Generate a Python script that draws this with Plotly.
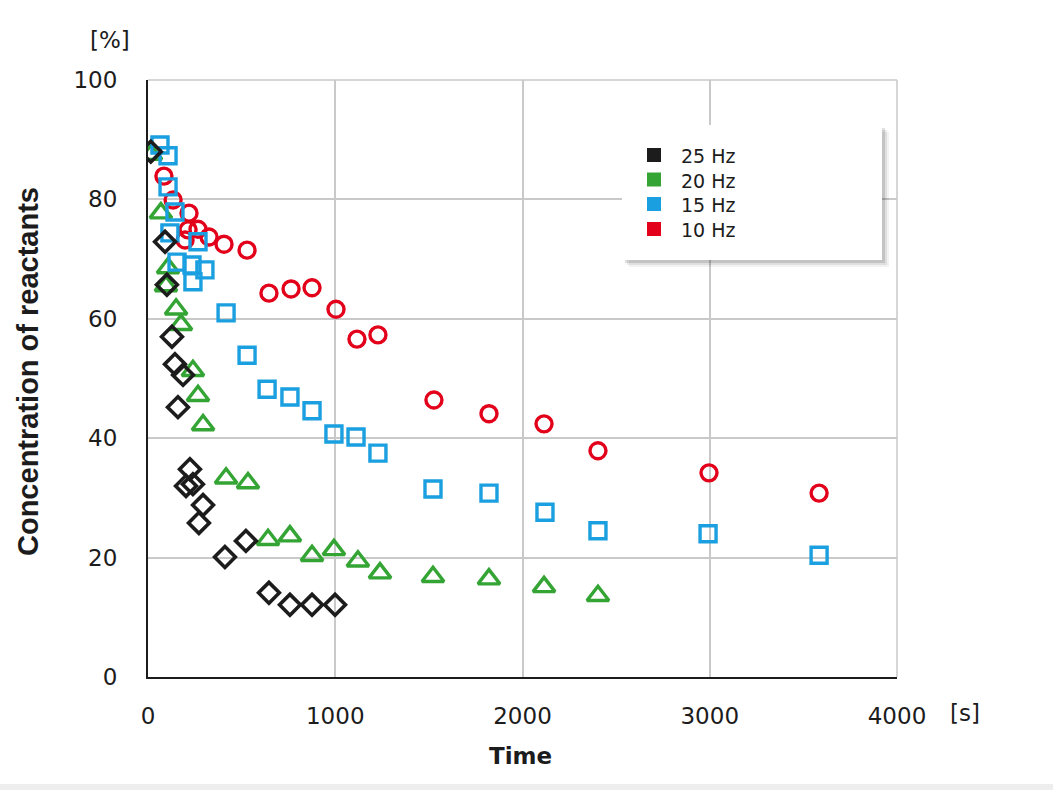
import plotly.graph_objects as go

# ---------------- data ----------------
t25 = [15, 91, 101, 128, 144, 187, 160, 224, 203, 240, 294, 272, 411, 523, 646, 758, 876, 999]
c25 = [88, 72.9, 65.7, 57, 52.4, 50.6, 45.2, 34.8, 32, 32.3, 28.8, 25.8, 20.1, 22.8, 14.1, 12.1, 12.1, 12.1]

t20 = [16, 69, 107, 96, 150, 176, 240, 267, 294, 417, 534, 641, 758, 876, 993, 1121, 1239, 1522, 1821, 2115, 2403]
c20 = [87.5, 77.7, 68.5, 65.5, 61.6, 59.0, 51.3, 47.1, 42.2, 33.3, 32.5, 23.0, 23.6, 20.3, 21.3, 19.4, 17.4, 16.8, 16.4, 15.1, 13.6]

t15 = [64, 107, 107, 144, 117, 267, 155, 235, 304, 240, 417, 529, 636, 758, 876, 993, 1111, 1228, 1522, 1821, 2120, 2403, 2991, 3584]
c15 = [89.1, 87.3, 82.1, 77.9, 74.4, 72.9, 69.5, 69, 68.2, 66.2, 61, 53.9, 48.2, 46.9, 44.6, 40.7, 40.2, 37.5, 31.5, 30.8, 27.6, 24.5, 24.0, 20.4]

t10 = [85, 134, 219, 214, 267, 198, 326, 406, 529, 646, 764, 876, 1004, 1116, 1228, 1527, 1821, 2115, 2403, 2996, 3584]
c10 = [83.9, 79.9, 77.7, 74.9, 75, 73.2, 73.7, 72.5, 71.5, 64.3, 65, 65.2, 61.6, 56.6, 57.3, 46.4, 44.1, 42.4, 37.9, 34.2, 30.8]

series_names = ["25 Hz", "20 Hz", "15 Hz", "10 Hz"]
x_ticks = [0, 1000, 2000, 3000, 4000]
y_ticks = [0, 20, 40, 60, 80, 100]

# ---------------- style ----------------
BLACK = "#1c1c1c"
GREEN = "#34a534"
BLUE = "#1a9fe0"
RED = "#e2001a"
GRID = "#c9c9c9"
colors = [BLACK, GREEN, BLUE, RED]

W, H = 1053, 790
L, R, T, B = 148, W - 897, 80, H - 677
PW, PH = W - L - R, H - T - B

def px_x(p):
    return (p - L) / PW

def px_y(p):
    return (H - B - p) / PH

fig = go.Figure()

# draw order: red, green, blue, black
fig.add_trace(go.Scatter(x=t10, y=c10, mode="markers", name=series_names[3], showlegend=False,
                         marker=dict(symbol="circle-open", size=16, color=RED, line=dict(width=3.4, color=RED))))
fig.add_trace(go.Scatter(x=t20, y=c20, mode="markers", name=series_names[1], showlegend=False,
                         marker=dict(symbol="triangle-up-open", size=19, color=GREEN, line=dict(width=3.4, color=GREEN))))
fig.add_trace(go.Scatter(x=t15, y=c15, mode="markers", name=series_names[2], showlegend=False,
                         marker=dict(symbol="square-open", size=16, color=BLUE, line=dict(width=3.4, color=BLUE))))
fig.add_trace(go.Scatter(x=t25, y=c25, mode="markers", name=series_names[0], showlegend=False,
                         marker=dict(symbol="diamond-open", size=16, color=BLACK, line=dict(width=3.6, color=BLACK))))

shapes = []
# legend box shadow
for off, op in [(7, 0.05), (5, 0.08), (3, 0.12)]:
    shapes.append(dict(type="rect", xref="paper", yref="paper", layer="above",
                       x0=px_x(622 + off), x1=px_x(882 + off), y0=px_y(260 + off), y1=px_y(125 + off),
                       fillcolor=f"rgba(0,0,0,{op})", line=dict(width=0)))
shapes.append(dict(type="rect", xref="paper", yref="paper", layer="above",
                   x0=px_x(622), x1=px_x(882), y0=px_y(260), y1=px_y(125),
                   fillcolor="white", line=dict(width=0)))
# top and right frame (gray)
shapes.append(dict(type="line", xref="paper", yref="paper", layer="below",
                   x0=0, x1=1, y0=1, y1=1, line=dict(color=GRID, width=1.5)))
shapes.append(dict(type="line", xref="paper", yref="paper", layer="below",
                   x0=1, x1=1, y0=0, y1=1, line=dict(color=GRID, width=1.5)))
# bottom light band
shapes.append(dict(type="rect", xref="paper", yref="paper", layer="below",
                   x0=px_x(0), x1=px_x(W), y0=px_y(790), y1=px_y(784),
                   fillcolor="#eeeeee", line=dict(width=0)))

annotations = [
    dict(text="[%]", xref="paper", yref="paper", x=px_x(110), y=px_y(40),
         xanchor="center", yanchor="middle", showarrow=False,
         font=dict(family="DejaVu Sans", size=23, color=BLACK)),
    dict(text="[s]", xref="paper", yref="paper", x=px_x(965), y=px_y(713),
         xanchor="center", yanchor="middle", showarrow=False,
         font=dict(family="DejaVu Sans", size=23, color=BLACK)),
    dict(text="<b>Time</b>", xref="paper", yref="paper", x=px_x(520), y=px_y(756),
         xanchor="center", yanchor="middle", showarrow=False,
         font=dict(family="DejaVu Sans", size=23, color=BLACK)),
    dict(text="<b>Concentration of reactants</b>", xref="paper", yref="paper",
         x=px_x(28), y=px_y(372), xanchor="center", yanchor="middle", textangle=-90,
         showarrow=False, font=dict(family="Liberation Sans", size=29, color=BLACK)),
]

# custom legend (square swatches + labels)
row_y = [155, 179.5, 204, 229]
for name, col, ry in zip(series_names, colors, row_y):
    shapes.append(dict(type="rect", xref="paper", yref="paper", layer="above",
                       x0=px_x(647), x1=px_x(661), y0=px_y(ry + 7), y1=px_y(ry - 7),
                       fillcolor=col, line=dict(width=0)))
    annotations.append(dict(text=name, xref="paper", yref="paper", x=px_x(679), y=px_y(ry + 1),
                            xanchor="left", yanchor="middle", showarrow=False,
                            font=dict(family="DejaVu Sans", size=19, color=BLACK)))

fig.update_layout(
    width=W, height=H,
    margin=dict(l=L, r=R, t=T, b=B, pad=0),
    paper_bgcolor="white", plot_bgcolor="white",
    showlegend=False,
    shapes=shapes,
    annotations=annotations,
    xaxis=dict(range=[0, 4000], tickvals=x_ticks, ticktext=[str(v) for v in x_ticks],
               showgrid=True, gridcolor=GRID, gridwidth=1.5, zeroline=False,
               showline=True, linecolor=BLACK, linewidth=2, layer="below traces",
               ticks="", ticklabelstandoff=17,
               tickfont=dict(family="DejaVu Sans", size=23, color=BLACK)),
    yaxis=dict(range=[0, 100], tickvals=y_ticks, ticktext=[str(v) for v in y_ticks],
               showgrid=True, gridcolor=GRID, gridwidth=1.5, zeroline=False,
               showline=True, linecolor=BLACK, linewidth=2, layer="below traces",
               ticks="", ticklabelstandoff=24,
               tickfont=dict(family="DejaVu Sans", size=23, color=BLACK)),
)

fig.write_html("out.html")
